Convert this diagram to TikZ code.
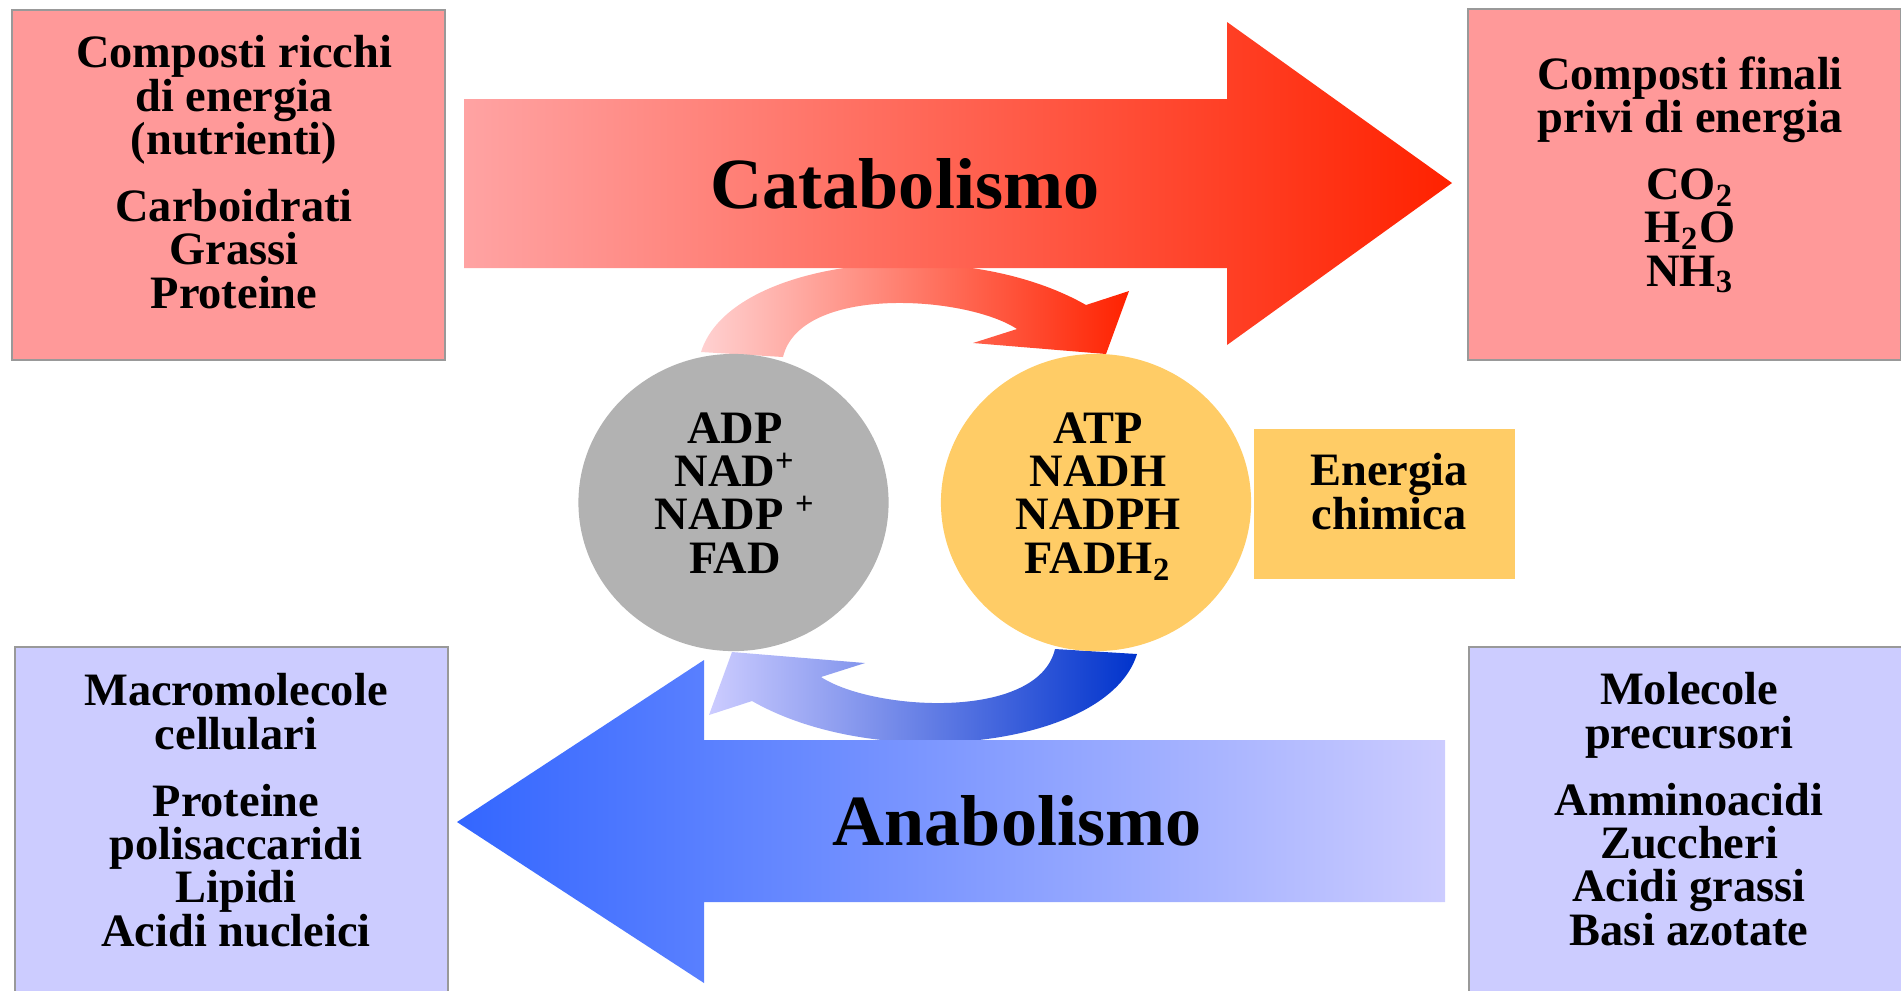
\documentclass[tikz,border=0pt]{standalone}
\usepackage{fontspec}
\setmainfont{Liberation Serif}
\usetikzlibrary{shapes.geometric}

\definecolor{catapink}{HTML}{FF9999}
\definecolor{catalight}{HTML}{FFA3A3}
\definecolor{catamid}{HTML}{FF7A78}
\definecolor{catared}{HTML}{FF2200}
\definecolor{anablue}{HTML}{CCCCFF}
\definecolor{anamid}{HTML}{A8B4F4}
\definecolor{anadeep}{HTML}{3366FF}
\definecolor{anadark}{HTML}{0033CC}
\definecolor{energyellow}{HTML}{FFCC66}
\definecolor{cofgray}{HTML}{B2B2B2}
\definecolor{boxborder}{HTML}{999999}

\tikzset{
  listbox/.style={rectangle, draw=boxborder, line width=0.6pt, inner sep=0pt,
    anchor=north west, minimum width=4.33cm},
  listtext/.style={font=\fontsize{13.2}{12.3}\selectfont\bfseries,
    align=center, inner sep=0pt, anchor=base},
  bigtext/.style={font=\fontsize{20.5}{24}\selectfont\bfseries,
    inner sep=0pt, anchor=base},
  cofactor/.style={ellipse, inner sep=0pt, minimum width=3.1cm,
    minimum height=2.97cm}
}

\begin{document}
\begin{tikzpicture}[x=0.01cm, y=-0.01cm]
    \useasboundingbox (0,0) rectangle (1901,990);

    \node[listbox, fill=catapink, minimum height=3.5cm] (richbox) at (11,9) {};
    \node[listbox, fill=catapink, minimum height=3.51cm] (poorbox) at (1467,8) {};
    \node[listbox, fill=anablue, minimum height=3.6cm] (macrobox) at (14,646) {};
    \node[listbox, fill=anablue, minimum height=3.6cm] (precbox) at (1468,646) {};

    \node[listtext] (richtext) at (234,308) {Composti ricchi\\di energia\\(nutrienti)\\[6.8pt]Carboidrati\\Grassi\\Proteine};
    \node[listtext] (poortext) at (1690,286) {Composti finali\\privi di energia\\[6.8pt]CO\textsubscript{2}\\H\textsubscript{2}O\\NH\textsubscript{3}};
    \node[listtext] (macrotext) at (236,946) {Macromolecole\\cellulari\\[6.8pt]Proteine\\polisaccaridi\\Lipidi\\Acidi nucleici};
    \node[listtext] (prectext) at (1689,945) {Molecole\\precursori\\[6.8pt]Amminoacidi\\Zuccheri\\Acidi grassi\\Basi azotate};

    \shade[left color=red!18, middle color=catalight, right color=catared]
    (701,352) .. controls (730,258) and (960,233) .. (1086,305) -- (1129,291)
    -- (1106,354) -- (973,343) -- (1017,329)
    .. controls (965,295) and (800,285) .. (783,357) -- cycle;
    \shade[left color=anablue, middle color=anamid, right color=anadark]
    (1137,654) .. controls (1108,748) and (878,773) .. (752,701) -- (709,715)
    -- (732,652) -- (865,663) -- (821,677)
    .. controls (873,711) and (1038,721) .. (1055,649) -- cycle;

    \shade[left color=catalight, middle color=catamid, right color=catared]
    (464,99) -- (1227,99) -- (1227,22) -- (1452,183) -- (1227,345)
    -- (1227,268) -- (464,268) -- cycle;
    \shade[left color=anadeep, right color=anablue]
    (457,822) -- (704,660) -- (704,740) -- (1445,740) -- (1445,902)
    -- (704,902) -- (704,983) -- cycle;
    \node[bigtext] (catab) at (905,208) {Catabolismo};
    \node[bigtext] (anab) at (1017,845) {Anabolismo};

    \node[cofactor, fill=cofgray] (oxidized) at (733.5,502.5) {};
    \node[cofactor, fill=energyellow] (reduced) at (1096,502.5) {};
    \node[listtext] (oxtext) at (735,573) {ADP\\NAD\textsuperscript{+}\\NADP \textsuperscript{+}\\FAD};
    \node[listtext] (redtext) at (1098,573) {ATP\\NADH\\NADPH\\FADH\textsubscript{2}};

    \node[rectangle, fill=energyellow, inner sep=0pt, anchor=north west,
    minimum width=2.61cm, minimum height=1.5cm] (energybox) at (1253,428) {};
    \node[listtext] (energytext) at (1389,529) {Energia\\chimica};
\end{tikzpicture}
\end{document}
